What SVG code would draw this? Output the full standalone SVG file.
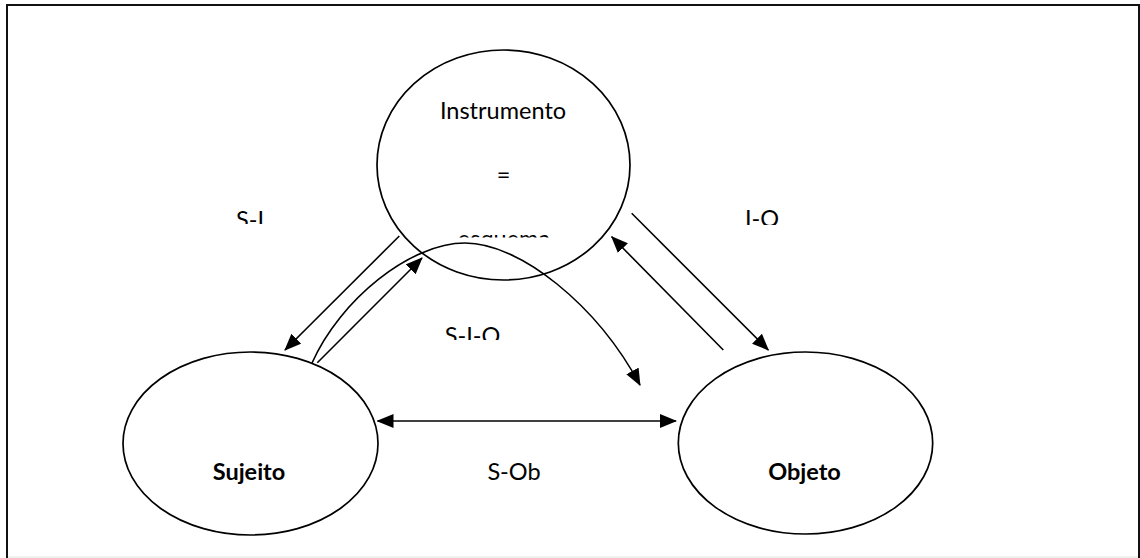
<svg xmlns="http://www.w3.org/2000/svg" width="1140" height="558" viewBox="0 0 1140 558">
<style>
.node{fill:#fff;stroke:#000;stroke-width:1.7}
.conn{fill:none;stroke:#000;stroke-width:1.6}
.t{font-family:Lato,"Liberation Sans",sans-serif;font-size:23.5px;fill:#000;text-anchor:middle}
.b{font-weight:bold}
</style>
<defs>
<marker id="ah" markerUnits="userSpaceOnUse" markerWidth="17" markerHeight="14" refX="16" refY="7" orient="auto-start-reverse" viewBox="0 0 17 14">
<path d="M0,0 L17,7 L0,14 z" fill="#000"/>
</marker>
<clipPath id="cEsq"><rect x="0" y="0" width="1140" height="237.5"/></clipPath>
<clipPath id="cSI"><rect x="0" y="0" width="1140" height="224"/></clipPath>
<clipPath id="cIO"><rect x="0" y="0" width="1140" height="225"/></clipPath>
<clipPath id="cSIO"><rect x="0" y="0" width="1140" height="340"/></clipPath>
</defs>
<rect x="0" y="0" width="1140" height="558" fill="#fff"/>
<rect x="7" y="5" width="1132" height="620" fill="none" stroke="#111" stroke-width="2"/>
<line x1="8" y1="557" x2="1138" y2="557" stroke="#e2e2e2" stroke-width="1"/>

<g id="node-instrumento">
<ellipse class="node" cx="503.5" cy="165" rx="126.5" ry="115"/>
<text class="t" x="503" y="119">Instrumento</text>
<text class="t" x="503.5" y="183">=</text>
<text class="t" x="504" y="247" clip-path="url(#cEsq)">esquema</text>
</g>
<g id="node-sujeito">
<ellipse class="node" cx="250.5" cy="443.5" rx="127.5" ry="91.5"/>
<text class="t b" x="249" y="480">Sujeito</text>
</g>
<g id="node-objeto">
<ellipse class="node" cx="805.5" cy="443" rx="127.2" ry="91"/>
<text class="t b" x="804.5" y="480">Objeto</text>
</g>

<g id="connectors">
<line class="conn" x1="399.3" y1="236" x2="285" y2="350" marker-end="url(#ah)"/>
<line class="conn" x1="317.3" y1="362.7" x2="422" y2="258" marker-end="url(#ah)"/>
<path class="conn" d="M312,363 C340,300 410,243 465,243 C520,243 597,305 640,385" marker-end="url(#ah)"/>
<line class="conn" x1="631.7" y1="213.3" x2="768.3" y2="350" marker-end="url(#ah)"/>
<line class="conn" x1="723.3" y1="350" x2="611.7" y2="236.7" marker-end="url(#ah)"/>
<line class="conn" x1="377.5" y1="421" x2="676" y2="421" marker-start="url(#ah)" marker-end="url(#ah)"/>
</g>

<g id="labels">
<text class="t" x="250" y="228" clip-path="url(#cSI)">S-I</text>
<text class="t" x="762" y="227" clip-path="url(#cIO)">I-O</text>
<text class="t" x="472.5" y="344" clip-path="url(#cSIO)">S-I-O</text>
<text class="t" x="514" y="480">S-Ob</text>
</g>
</svg>
